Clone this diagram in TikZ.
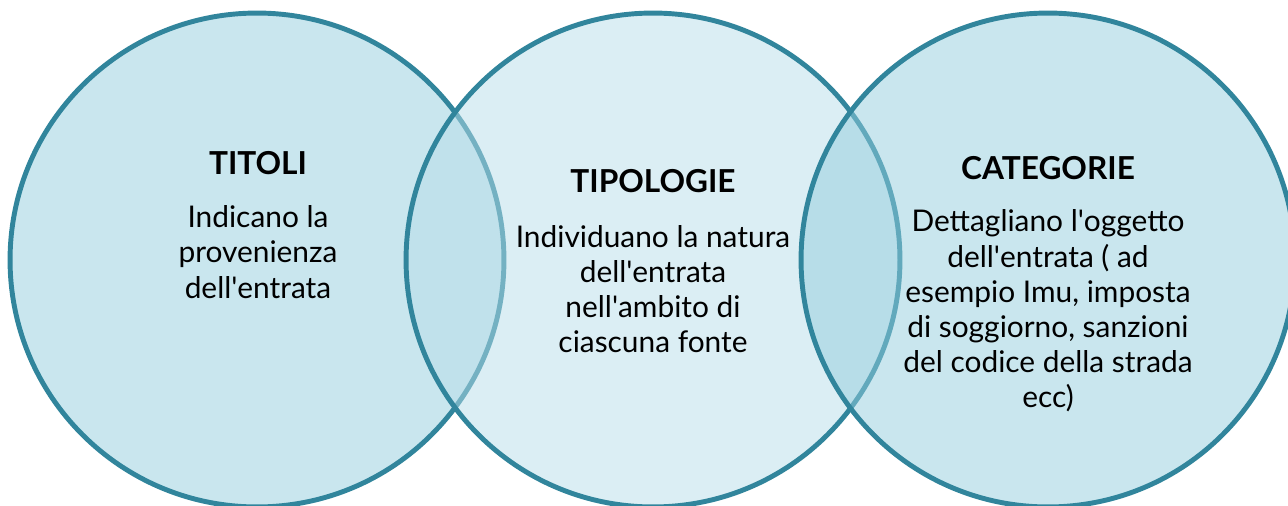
\documentclass[tikz,border=0pt]{standalone}
\usepackage{fontspec}
\setmainfont{Lato}
\usepackage{tikz}

\definecolor{vennline}{RGB}{49,133,156}
\definecolor{vennside}{RGB}{147,205,221}
\definecolor{vennmid}{RGB}{183,221,233}
\newcommand{\ap}{\textquotesingle}

\begin{document}
\begin{tikzpicture}[x=0.02cm,y=-0.02cm,
        venn/.style={circle,minimum size=9.88cm,inner sep=0pt,draw=vennline,line width=2.8pt,fill opacity=0.5,draw opacity=1},
        title/.style={font=\fontsize{18}{22}\selectfont\bfseries},
        body/.style={align=center,font=\fontsize{17}{20}\selectfont}]
                \useasboundingbox (0,0) rectangle (1288,506);
                \node [venn,fill=vennside] (titoli) at (257,260) {};
                \node [venn,fill=vennmid] (tipologie) at (653,260) {};
                \node [venn,fill=vennside] (categorie) at (1048,260) {};
                \node [title] (titolitxt) at (258,163) {TITOLI};
                \node [body] (titolibody) at (258,252) {Indicano la\\provenienza\\dell\ap entrata};
                \node [title] (tipologietxt) at (653,181) {TIPOLOGIE};
                \node [body] (tipologiebody) at (653,289) {Individuano la natura\\dell\ap entrata\\nell\ap ambito di\\ciascuna fonte};
                \node [title] (categorietxt) at (1048,168) {CATEGORIE};
                \node [body] (categoriebody) at (1048,311) {Dettagliano l\ap oggetto\\dell\ap entrata ( ad\\esempio Imu, imposta\\di soggiorno, sanzioni\\del codice della strada\\ecc)};
            \end{tikzpicture}
\end{document}
